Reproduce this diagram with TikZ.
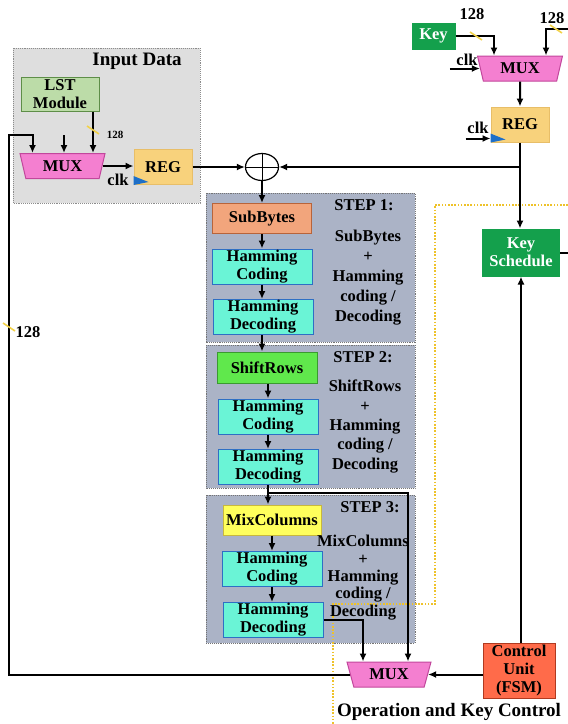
\documentclass[tikz,border=0pt]{standalone}
\usepackage{fontspec}
\setmainfont{Liberation Serif}
\usetikzlibrary{shapes.geometric,arrows.meta}

\definecolor{input background color}{HTML}{DEDEDE}
\definecolor{stage background color}{HTML}{ABB3C6}
\definecolor{lst color}{HTML}{BCDCA8}
\definecolor{lst border}{HTML}{5E8E48}
\definecolor{mux color}{HTML}{F47FD0}
\definecolor{mux border}{HTML}{C2479C}
\definecolor{reg color}{HTML}{F8D27C}
\definecolor{reg border}{HTML}{E8BE68}
\definecolor{key color}{HTML}{14A04C}
\definecolor{subbytes color}{HTML}{F2A57C}
\definecolor{subbytes border}{HTML}{B8643A}
\definecolor{shiftrows color}{HTML}{60E84C}
\definecolor{shiftrows border}{HTML}{3A9A30}
\definecolor{mixcolumns color}{HTML}{FFFF5C}
\definecolor{mixcolumns border}{HTML}{C8B83C}
\definecolor{hamming color}{HTML}{6AF4D6}
\definecolor{hamming border}{HTML}{2E6FC4}
\definecolor{control color}{HTML}{FF6B4A}
\definecolor{control border}{HTML}{B03A20}
\definecolor{clk color}{HTML}{1E6FC8}
\definecolor{bus color}{HTML}{F2D24A}
\definecolor{frame color}{HTML}{EEC22A}
\tikzset{
    x={1pt},
    y={-1pt},
    every node/.style={
        font={\bfseries\fontsize{16.5}{18}\selectfont},
        align=center,
        inner sep=0pt,
    },
    input background/.style={
        fill=input background color,
        draw=black!45,
        densely dotted,
        line width={0.9pt},
    },
    stage background/.style={
        fill=stage background color,
        draw=black!55,
        densely dotted,
        line width={0.9pt},
    },
    control frame/.style={
        draw=frame color,
        dash pattern=on 1.6pt off 1.6pt,
        line width={2pt},
    },
    section title/.style={
        font={\bfseries\fontsize{19}{22}\selectfont},
    },
    stage title/.style={
        font={\bfseries\fontsize{16.5}{18}\selectfont},
    },
    stage text/.style={
        font={\bfseries\fontsize{16.5}{#1}\selectfont},
    },
    block/.style 2 args={
        rectangle, fill={#1}, draw={#2},
        line width={1pt},
    },
    hamming/.style={
        block={hamming color}{hamming border},
        minimum width={100},
        minimum height={35},
    },
    reg box/.style={
        block={reg color}{reg border},
        minimum width={58},
        minimum height={35},
    },
    key block/.style={
        block={key color}{key color},
        text=white,
    },
    mux/.style={
        trapezium, trapezium stretches body,
        trapezium left angle={#1},
        trapezium right angle={#1},
        fill=mux color, draw=mux border,
        line width={1pt},
        minimum width={85},
        minimum height={25},
    },
    mux/.default={118},
    xor gate/.style={
        ellipse, draw, fill=white,
        line width={1.2pt},
        minimum width={33},
        minimum height={27},
    },
    clk label/.style={},
    bus label/.style={},
    small bus label/.style={
        font={\bfseries\fontsize{11}{13}\selectfont},
    },
    clk mark/.style={
        fill=clk color,
    },
    bus slash/.style={
        draw=bus color,
        line width={1.6pt},
    },
    plain wire/.style={
        draw,
        line width={2pt},
    },
    wire/.style={
        plain wire,
        -{Latex[length=8pt,width=7pt]},
    },
}

\begin{document}
\begin{tikzpicture}
\useasboundingbox (0,0) rectangle (568,724);
% background
\path[input background] (13,48) rectangle (200,203);
\path[stage background] (206,193) rectangle (415,342);
\path[stage background] (206,345) rectangle (415,488);
\path[stage background] (206,495) rectangle (415,643);
\draw[control frame] (568,205) -| (435,604) -| (333,724);
% input data
\node[section title] (input title) at (137,61) {Input Data};
\node[block={lst color}{lst border}, minimum width={78}, minimum height={34}] (lst) at (60,94) {LST\\Module};
\node[mux] (mux in) at (62.5,166) {MUX};
\node[reg box] (reg in) at (163,167) {REG};
\node[clk label] (clk in) at (118,180) {clk};
\path[clk mark] (reg in.south west) ++(0,-9) -- ++(15,6) -- ++(-15,3) -- cycle;
\node[xor gate] (xor) at (262,167) {};
\draw[line width={1pt}] (xor.north) -- (xor.south) (xor.west) -- (xor.east);
% key path
\node[key block, minimum width={43}, minimum height={26}] (key) at (433.5,36) {Key};
\node[mux] (mux key) at (520,68.5) {MUX};
\node[reg box] (reg key) at (520,124.5) {REG};
\node[clk label] (clk mux) at (467,60) {clk};
\node[clk label] (clk reg) at (478,128) {clk};
\path[clk mark] (reg key.south west) ++(0,-9) -- ++(15,6) -- ++(-15,3) -- cycle;
\node[key block, minimum width={77}, minimum height={47}] (key sched) at (521,252.5) {Key\\Schedule};
\node[block={control color}{control border}, minimum width={72}, minimum height={55}] (ctrl) at (519,670.5) {Control\\Unit\\(FSM)};
\node[mux=122, minimum width={84}] (mux out) at (389,674.5) {MUX};
\node[section title] (control title) at (449,712) {Operation and Key Control};
% step 1
\node[block={subbytes color}{subbytes border}, minimum width={99}, minimum height={30}] (subbytes) at (262,218.5) {SubBytes};
\node[hamming] (hc1) at (262,266.5) {Hamming\\Coding};
\node[hamming] (hd1) at (263,317) {Hamming\\Decoding};
\node[stage title] (step1 title) at (364,205) {STEP 1:};
\node[stage text=20] (step1 text) at (368,278) {SubBytes\\+\\Hamming\\coding /\\Decoding};
% step 2
\node[block={shiftrows color}{shiftrows border}, minimum width={100}, minimum height={31}] (shiftrows) at (267,367.5) {ShiftRows};
\node[hamming] (hc2) at (268,416.5) {Hamming\\Coding};
\node[hamming] (hd2) at (268,467) {Hamming\\Decoding};
\node[stage title] (step2 title) at (363,357) {STEP 2:};
\node[stage text=19.3] (step2 text) at (365,426.5) {ShiftRows\\+\\Hamming\\coding /\\Decoding};
% step 3
\node[block={mixcolumns color}{mixcolumns border}, minimum width={98}, minimum height={30}] (mixcolumns) at (272,520) {MixColumns};
\node[hamming] (hc3) at (272,569) {Hamming\\Coding};
\node[hamming] (hd3) at (273,620) {Hamming\\Decoding};
\node[stage title] (step3 title) at (370,507) {STEP 3:};
\node[stage text=17.3] (step3 text) at (363,577.5) {MixColumns\\+\\Hamming\\coding /\\Decoding};
% bus widths
\coordinate (lst bus) at (93,130);
\coordinate (loop bus) at (9,327);
\coordinate (key bus) at (476,36);
\coordinate (key in bus) at (556,29);
\node[small bus label] (lst bus label) at (115,135) {128};
\node[bus label] (loop bus label) at (28,332) {128};
\node[bus label] (key bus label) at (472,14) {128};
\node[bus label] (key in bus label) at (552,18) {128};
% wires
\coordinate (loop corner) at (9,135);
\coordinate (mux in sel) at (64,135);
\coordinate (step2 tap) at (268,493);
\coordinate (key tap) at (reg key.south |- xor.east);
\coordinate (key in) at (568,29);
\coordinate (sched out) at (568,252.5);
\coordinate (clk reg end) at ([yshift=4pt]reg key.south west);
\draw[wire] (mux out.west) -| (loop corner) -| ([xshift=-30pt]mux in.north);
\draw[wire] (mux in sel) -- (mux in sel |- mux in.north);
\draw[wire] (lst.south -| lst bus) -- (lst bus |- mux in.north);
\draw[wire] (mux in.east) -- (mux in.east -| reg in.west);
\draw[wire] (reg in.east) -- (xor.west);
\draw[wire] (key tap) -- (xor.east);
\draw[wire] (xor.south) -- (xor.south |- subbytes.north);
\draw[wire] (subbytes.south) -- (subbytes.south |- hc1.north);
\draw[wire] (hc1.south) -- (hc1.south |- hd1.north);
\draw[wire] (hd1.south -| hc1.south) -- (hc1.south |- shiftrows.north);
\draw[wire] (shiftrows.south -| hc2.south) -- (hc2.north);
\draw[wire] (hc2.south) -- (hd2.north);
\draw[wire] (hd2.south) -- (hd2.south |- mixcolumns.north);
\draw[wire] (step2 tap) -| ([xshift=19pt]mux out.north);
\draw[wire] (mixcolumns.south -| hc3.south) -- (hc3.north);
\draw[wire] (hc3.south) -- (hc3.south |- hd3.north);
\draw[wire] (hd3.east) -| ([xshift=-26pt]mux out.north);
\draw[wire] (key.east) -| ([xshift=-26pt]mux key.north);
\draw[wire] (key in) -| ([xshift=26pt]mux key.north);
\draw[wire] ([xshift=-30pt]mux key.west) -- (mux key.west);
\draw[wire] ([xshift=-25pt]clk reg end) -- (clk reg end);
\draw[wire] (mux key.south) -- (reg key.north);
\draw[wire] (reg key.south) -- (reg key.south |- key sched.north);
\draw[plain wire] (key sched.east) -- (sched out);
\draw[wire] (ctrl.north -| key sched.south) -- (key sched.south);
\draw[wire] (ctrl.west |- mux out.east) -- (mux out.east);
% bus slashes
\path[bus slash] ([shift={(-6,-4)}]lst bus) -- ([shift={(6,4)}]lst bus);
\path[bus slash] ([shift={(-6,-4)}]loop bus) -- ([shift={(6,4)}]loop bus);
\path[bus slash] ([shift={(-6,-4)}]key bus) -- ([shift={(6,4)}]key bus);
\path[bus slash] ([shift={(-6,-4)}]key in bus) -- ([shift={(6,4)}]key in bus);
\end{tikzpicture}
\end{document}
